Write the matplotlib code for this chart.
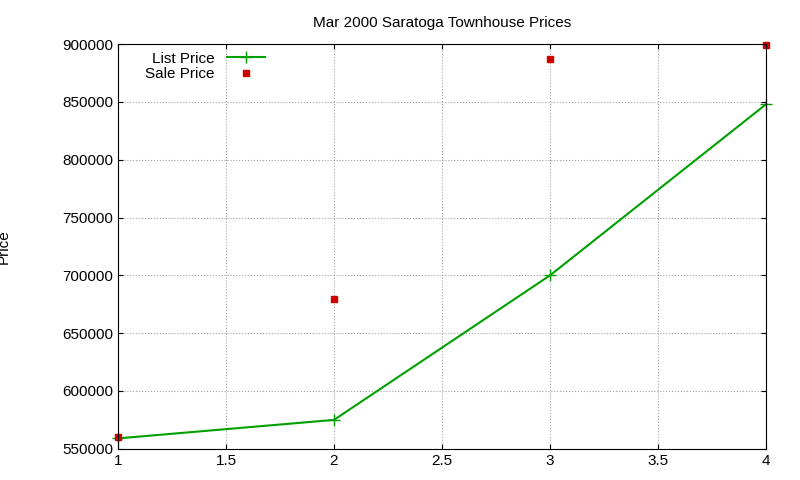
import matplotlib
matplotlib.use("Agg")
import matplotlib.pyplot as plt

x = [1, 2, 3, 4]
list_price = [559000, 575000, 700000, 848000]
sale_price = [560000, 680000, 887000, 899000]

plt.rcParams['font.family'] = ['Liberation Sans', 'DejaVu Sans']
fig = plt.figure(figsize=(8, 4.8), dpi=100)
ax = fig.add_axes([0.1475, 0.065, 0.81, 0.843])
ax.plot(x, list_price, color='#00a000', marker='+', markersize=8, lw=1.5, label='List Price', clip_on=False)
ax.plot(x, sale_price, color='#d00000', marker='s', markersize=5, ls='none', label='Sale Price', clip_on=False)
ax.set_xlim(1, 4)
ax.set_ylim(550000, 900000)
ax.set_xticks([1, 1.5, 2, 2.5, 3, 3.5, 4])
ax.set_xticklabels(['1', '1.5', '2', '2.5', '3', '3.5', '4'])
ax.set_yticks(range(550000, 900001, 50000))
ax.grid(True, color='#a0a0a0', ls=':', lw=0.8)
ax.tick_params(direction='in', labelsize=11, top=True, right=True)
ax.set_ylabel('Price', fontsize=11)
ax.yaxis.set_label_coords(-0.165, 0.5)
ax.set_title('Mar 2000 Saratoga Townhouse Prices', fontsize=11, pad=12)
ax.legend(loc='upper left', markerfirst=False, frameon=False, fontsize=11,
          handlelength=2.5, borderaxespad=0.1, labelspacing=0.1, bbox_to_anchor=(0.03, 1.0))
fig.savefig('out.png')
